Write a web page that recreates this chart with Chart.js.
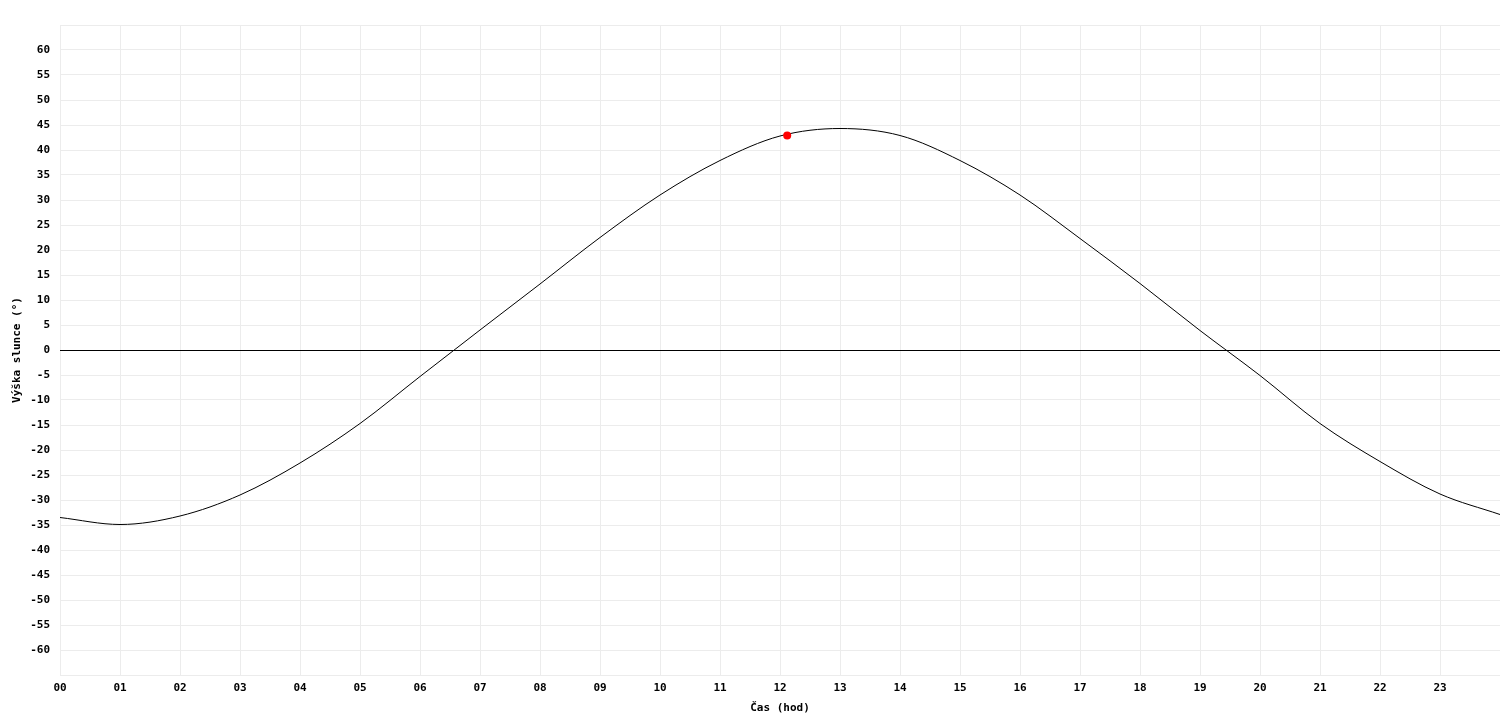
<!DOCTYPE html>
<html>
<head>
<meta charset="utf-8">
<script src="https://cdn.jsdelivr.net/npm/chart.js@4/dist/chart.umd.min.js"></script>
<style>
html,body{margin:0;padding:0;background:#fff;}
#wrap{width:1500px;height:720px;}
</style>
</head>
<body>
<div id="wrap"><canvas id="c" width="1500" height="720"></canvas></div>
<script>
const hours = [0,1,2,3,4,5,6,7,8,9,10,11,12,13,14,15,16,17,18,19,20,21,22,23,24];
const altitude = [-33.5,-34.9,-33.2,-29.0,-22.6,-14.7,-5.3,4.0,13.2,22.5,31.0,37.9,42.8,44.3,42.9,37.9,31.0,22.3,13.3,3.9,-5.1,-14.7,-22.3,-28.8,-32.9];
const currentTime = [12.12];
const currentAltitude = [42.9];
const xTitle = 'Čas (hod)';
const yTitle = 'Výška slunce (°)';

const FONT = {family:'"DejaVu Sans Mono", monospace', size:11, weight:'bold'};
const GRID = '#ececec';

new Chart(document.getElementById('c'), {
  type:'line',
  data:{
    datasets:[
      {
        label:'now',
        data: currentTime.map((t,i)=>({x:t,y:currentAltitude[i]})),
        showLine:false,
        pointRadius:4,
        pointBackgroundColor:'#ff0000',
        pointBorderColor:'#ff0000',
        pointBorderWidth:0,
        order:0
      },
      {
        label:'alt',
        data: hours.map((h,i)=>({x:h,y:altitude[i]})),
        borderColor:'#000',
        borderWidth:1,
        pointRadius:0,
        cubicInterpolationMode:'monotone',
        fill:false,
        order:1
      }
    ]
  },
  options:{
    responsive:false,
    animation:false,
    layout:{autoPadding:false,padding:{top:25,right:0,left:0,bottom:0}},
    plugins:{legend:{display:false},tooltip:{enabled:false}},
    scales:{
      x:{
        type:'linear',
        min:0,max:24,
        border:{display:false},
        grid:{color:GRID,drawTicks:false,lineWidth:1},
        ticks:{
          stepSize:1,autoSkip:false,maxRotation:0,color:'#000',font:FONT,padding:7,
          callback:v=> v>=24 ? '' : String(v).padStart(2,'0')
        },
        title:{display:true,text:xTitle,color:'#000',font:FONT,padding:{top:2,bottom:5}},
        afterFit:s=>{s.height=45;s.paddingRight=0;}
      },
      y:{
        min:-65,max:65,
        border:{display:false},
        grid:{
          drawTicks:false,lineWidth:1,
          color:c=> (c.tick && c.tick.value===0) ? '#000' : GRID
        },
        ticks:{
          stepSize:5,color:'#000',font:FONT,padding:10,
          callback:v=> (Math.abs(v)>=65) ? '' : String(v)
        },
        title:{display:true,text:yTitle,color:'#000',font:FONT,padding:{top:11,bottom:0}},
        afterFit:s=>{s.width=60;}
      }
    }
  }
});
</script>
</body>
</html>
